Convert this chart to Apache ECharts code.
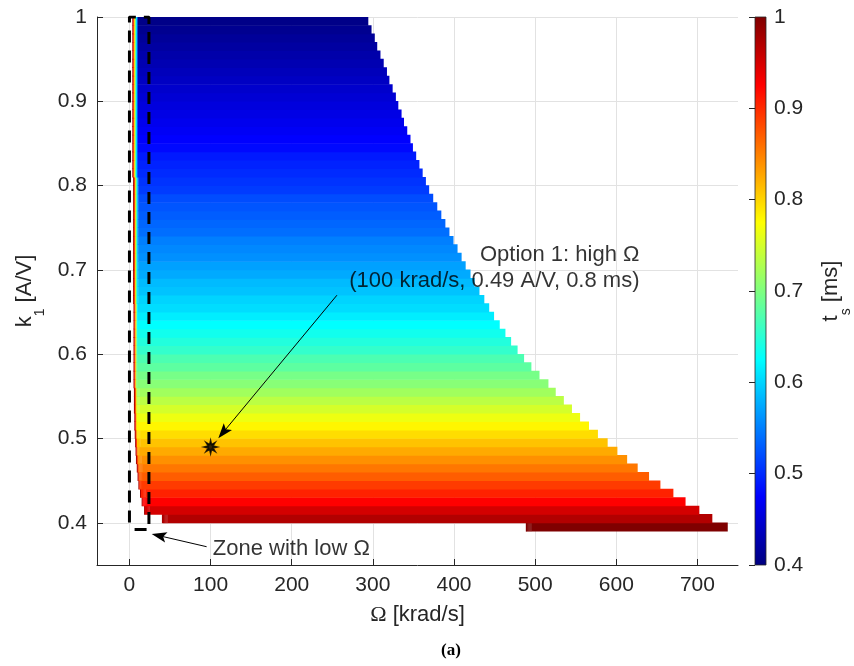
<!DOCTYPE html>
<html>
<head>
<meta charset="utf-8">
<script src="https://cdn.jsdelivr.net/npm/echarts@6/dist/echarts.min.js"></script>
<style>html,body{margin:0;padding:0;background:#fff}#main{width:854px;height:666px}</style>
</head>
<body>
<div id="main"></div>
<script>
// ---- data ----
// bottom edge of each k1 row (rows are 0.01 tall)
const k1Rows = [0.39,0.40,0.41,0.42,0.43,0.44,0.45,0.46,0.47,0.48,0.49,0.50,0.51,0.52,0.53,0.54,0.55,0.56,0.57,0.58,0.59,
  0.60,0.61,0.62,0.63,0.64,0.65,0.66,0.67,0.68,0.69,0.70,0.71,0.72,0.73,0.74,0.75,0.76,0.77,0.78,0.79,
  0.80,0.81,0.82,0.83,0.84,0.85,0.86,0.87,0.88,0.89,0.90,0.91,0.92,0.93,0.94,0.95,0.96,0.97,0.98,0.99];
const k1Step = 0.01;
// lower Omega limit of each row [krad/s]
const omegaMin = [488.5,40,18,15,13,11,10,9,8,7.5,7,6.5,6,6,5.5,5.5,5.5,5,5,5,5,
  5,5,5,5,5,5,4.5,4.5,4.5,4.5,4.5,4.5,4.5,4.5,4.5,4.5,4.5,4.5,4.5,4.5,
  4.5,3.5,3.5,3.5,3.5,3.5,3.5,3.5,3.5,3.5,3.5,3.5,3.5,3.5,3.5,3.5,3.5,3.5,3.5,3.5];
// upper Omega limit of each row [krad/s]
const omegaMax = [737,718,702,685,670,654,640,626,613,601,589,577,566,555,545,535,525,516,505,495,486,
  478,470,463,456,449,443,437,431,425,420,414,409,404,399,394,389,384,379,374,369,
  365,361,357,353,349,346,342,338,335,331,328,324,320,317,313,309,305,302,298,294];
// settling time of each row [ms]
const tsRow = [1.0,0.97,0.95,0.925,0.905,0.89,0.87,0.855,0.84,0.825,0.81,0.795,0.78,0.765,0.75,0.735,0.72,0.705,0.695,0.68,0.67,
  0.655,0.645,0.635,0.625,0.615,0.605,0.60,0.59,0.585,0.575,0.57,0.56,0.555,0.55,0.54,0.535,0.53,0.525,0.52,0.51,
  0.505,0.50,0.495,0.49,0.48,0.475,0.47,0.465,0.46,0.455,0.45,0.445,0.44,0.435,0.43,0.425,0.42,0.415,0.41,0.405];
// thin high-t_s strip along the low-Omega edge of each row
const edgeTs = [0.98,0.9,0.8,0.7,0.62,0.55];
const edgeStep = 1.1;

const xTicks = [0,100,200,300,400,500,600,700];
const yTicks = [0.4,0.5,0.6,0.7,0.8,0.9,1];
const optionPoint = [[100,0.49]];
const zoneBox = [[0,0.392],[0,1],[24,1],[24,0.392],[0,0.392]];
const arrowLines = [
  [[255.7,0.670],[115.4,0.5072]],
  [[95.1,0.3717],[36.4,0.3848]]
];
const notes = [
  {text:'Option 1: high Ω', at:[629.2,0.717], align:'right'},
  {text:'(100 krad/s, 0.49 A/V, 0.8 ms)', at:[629.2,0.6863], align:'right'},
  {text:'Zone with low Ω', at:[103.3,0.369], align:'left'}
];
const cbBar = [[0,1,0.4,1.0]];
const jet = ['#00007F','#0000FF','#007FFF','#00FFFF','#7FFF7F','#FFFF00','#FF7F00','#FF0000','#7F0000'];

// ---- build cells ----
const cells = [];
k1Rows.forEach((k, i) => {
  let x0 = omegaMin[i];
  edgeTs.forEach(e => {
    cells.push([x0, x0 + edgeStep, k, k + k1Step, Math.max(e, tsRow[i])]);
    x0 += edgeStep;
  });
  cells.push([x0, omegaMax[i], k, k + k1Step, tsRow[i]]);
});

const FONT = "'Liberation Sans', Arial, Helvetica, sans-serif";
const AX = '#262626';
const ARROW = 'path://M5 0 L10 14 L5 11 L0 14 Z';

const chart = echarts.init(document.getElementById('main'), null, {renderer:'canvas'});
chart.setOption({
  animation: false,
  backgroundColor: '#fff',
  textStyle: {fontFamily: FONT},
  grid: [
    {left: 97, right: 116, top: 17, bottom: 101},
    {left: 755, width: 25, top: 17, bottom: 101}
  ],
  visualMap: {
    type: 'continuous', show: false, min: 0.4, max: 1, dimension: 4, seriesIndex: 0,
    inRange: {color: jet}
  },
  xAxis: [
    {
      type: 'value', gridIndex: 0, min: -40, max: 750,
      axisLine: {show: true, onZero: false, lineStyle: {color: AX, width: 1}},
      axisTick: {show: true, inside: true, length: 6, customValues: xTicks, lineStyle: {color: AX}},
      axisLabel: {customValues: xTicks, fontSize: 21, color: AX, margin: 10, fontFamily: FONT},
      splitLine: {show: true, lineStyle: {color: '#e2e2e2', width: 1}},
      name: '{o|Ω} [krad/s]', nameLocation: 'middle', nameGap: 39,
      nameTextStyle: {fontSize: 22, color: AX, fontFamily: FONT,
        rich: {o: {fontSize: 22, fontFamily: "'Liberation Serif', 'DejaVu Serif', serif", color: AX}}}
    },
    {type: 'value', gridIndex: 1, min: 0, max: 1, show: false}
  ],
  yAxis: [
    {
      type: 'value', gridIndex: 0, min: 0.35, max: 1,
      axisLine: {show: true, onZero: false, lineStyle: {color: AX, width: 1}},
      axisTick: {show: true, inside: true, length: 6, customValues: yTicks, lineStyle: {color: AX}},
      axisLabel: {customValues: yTicks, fontSize: 21, color: AX, margin: 10, fontFamily: FONT},
      splitLine: {show: true, lineStyle: {color: '#e2e2e2', width: 1}},
      name: '{m|k}{s|1}{m| [A/V]}', nameLocation: 'middle', nameRotate: 90, nameGap: 47,
      nameTextStyle: {color: AX, fontFamily: FONT,
        rich: {
          m: {fontSize: 22, lineHeight: 22, verticalAlign: 'top', color: AX, fontFamily: FONT},
          s: {fontSize: 14, lineHeight: 14, padding: [19,0,0,0], verticalAlign: 'top', color: AX, fontFamily: FONT}
        }}
    },
    {
      type: 'value', gridIndex: 1, position: 'right', min: 0.4, max: 1, interval: 0.1, z: 10,
      axisLine: {show: false},
      axisTick: {show: true, inside: true, length: 6, lineStyle: {color: AX}},
      axisLabel: {fontSize: 21, color: AX, margin: 8, fontFamily: FONT},
      splitLine: {show: false},
      name: '{m|t}{s|s}{m| [ms]}', nameLocation: 'middle', nameRotate: 90, nameGap: 54,
      nameTextStyle: {color: AX, fontFamily: FONT,
        rich: {
          m: {fontSize: 22, lineHeight: 22, verticalAlign: 'top', color: AX, fontFamily: FONT},
          s: {fontSize: 14, lineHeight: 14, padding: [19,0,0,0], verticalAlign: 'top', color: AX, fontFamily: FONT}
        }}
    }
  ],
  graphic: [
    {type: 'text', left: 441, top: 642,
     style: {text: '(a)', font: "bold 17px 'Liberation Serif', serif", fill: '#000'}}
  ],
  series: [
    {
      type: 'custom', name: 'ts', xAxisIndex: 0, yAxisIndex: 0, clip: true,
      encode: {x: [0,1], y: [2,3]},
      data: cells,
      renderItem: function (params, api) {
        const p0 = api.coord([api.value(0), api.value(3)]);
        const p1 = api.coord([api.value(1), api.value(2)]);
        return {
          type: 'rect',
          shape: {x: p0[0], y: p0[1] - 0.3, width: p1[0] - p0[0] + 0.3, height: p1[1] - p0[1] + 0.6},
          style: {fill: api.visual('color')}
        };
      },
      z: 2
    },
    {
      type: 'line', name: 'zone', xAxisIndex: 0, yAxisIndex: 0,
      data: zoneBox, symbol: 'none', silent: true,
      lineStyle: {color: '#000', width: 3, type: [12, 8], dashOffset: 13},
      z: 5
    },
    {
      type: 'scatter', name: 'option1', xAxisIndex: 0, yAxisIndex: 0,
      data: optionPoint,
      symbol: 'path://M20 10 L13.7 11.53 L17.07 17.07 L11.53 13.7 L10 20 L8.47 13.7 L2.93 17.07 L6.3 11.53 L0 10 L6.3 8.47 L2.93 2.93 L8.47 6.3 L10 0 L11.53 6.3 L17.07 2.93 L13.7 8.47 Z',
      symbolSize: 13,
      itemStyle: {color: '#000', borderColor: '#000', borderWidth: 1.5},
      z: 10,
      markLine: {
        silent: true, animation: false,
        symbol: ['none', ARROW],
        symbolSize: 15,
        symbolKeepAspect: true,
        label: {show: false},
        lineStyle: {color: '#000', width: 1, type: 'solid'},
        data: arrowLines.map(l => [{coord: l[0]}, {coord: l[1]}])
      }
    },
    {
      type: 'scatter', name: 'notes', xAxisIndex: 0, yAxisIndex: 0,
      symbolSize: 1, silent: true,
      itemStyle: {color: 'rgba(0,0,0,0)'},
      data: notes.map(n => ({
        value: n.at,
        label: {show: true, formatter: n.text, position: [0, 0], align: n.align, verticalAlign: 'middle',
                fontSize: 22, color: '#000', fontFamily: FONT}
      })),
      z: 11
    },
    {
      type: 'custom', name: 'colorbar', xAxisIndex: 1, yAxisIndex: 1,
      data: cbBar,
      renderItem: function (params, api) {
        const p0 = api.coord([api.value(0), api.value(3)]);
        const p1 = api.coord([api.value(1), api.value(2)]);
        return {
          type: 'rect',
          shape: {x: p0[0], y: p0[1], width: p1[0] - p0[0], height: p1[1] - p0[1]},
          style: {
            fill: new echarts.graphic.LinearGradient(0, 1, 0, 0,
              jet.map((c, i) => ({offset: i / (jet.length - 1), color: c}))),
            stroke: AX, lineWidth: 0.8
          }
        };
      },
      z: 2
    }
  ]
});
</script>
</body>
</html>
